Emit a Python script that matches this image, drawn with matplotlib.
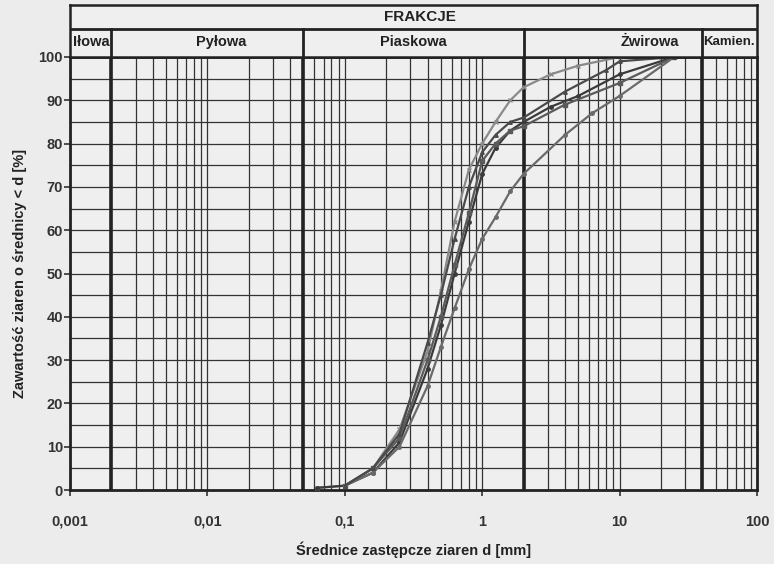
import matplotlib
matplotlib.use("Agg")
import matplotlib.pyplot as plt

# ---- data ----
curve1_d = [0.063, 0.1, 0.16, 0.25, 0.4, 0.5, 0.63, 0.8, 1.0, 1.25, 1.6, 2.0, 3.15, 5.0, 10.0, 20.0]
curve1_p = [0.5, 1, 5, 14, 32, 46, 62, 74, 80, 85, 90, 93, 96, 98, 100, 100]
curve2_d = [0.063, 0.1, 0.16, 0.25, 0.4, 0.5, 0.63, 0.8, 1.0, 1.25, 1.6, 2.0, 3.15, 5.0, 10.0, 25.0]
curve2_p = [0.5, 1, 4, 11, 28, 38, 50, 62, 73, 79, 83, 85, 88.5, 91, 96, 100]
curve3_d = [0.1, 0.16, 0.25, 0.4, 0.5, 0.63, 0.8, 1.0, 1.25, 1.6, 2.0, 4.0, 10.0, 25.0]
curve3_p = [1, 5, 12, 30, 40, 52, 64, 76, 80, 83, 84, 89, 94, 100]
curve4_d = [0.1, 0.16, 0.25, 0.4, 0.5, 0.63, 0.8, 1.0, 1.25, 1.6, 2.0, 4.0, 6.3, 10.0, 25.0]
curve4_p = [1, 4, 10, 24, 33, 42, 51, 58, 63, 69, 73, 82, 87, 91, 100]
curve5_d = [0.1, 0.16, 0.25, 0.4, 0.5, 0.63, 0.8, 1.0, 1.25, 1.6, 2.0, 4.0, 8.0, 10.0, 25.0]
curve5_p = [1, 5, 13, 34, 45, 58, 70, 78, 82, 85, 86, 92, 97, 99, 100]

curves = [(curve1_d, curve1_p), (curve2_d, curve2_p), (curve3_d, curve3_p),
          (curve4_d, curve4_p), (curve5_d, curve5_p)]
curve_colors = ['#8a8a8a', '#3a3a3a', '#5a5a5a', '#6a6a6a', '#4a4a4a']
curve_markers = ['x', 'o', 's', 'o', '^']

fraction_names = ['Iłowa', 'Pyłowa', 'Piaskowa', 'Żwirowa', 'Kamien.']
fraction_bounds = [0.001, 0.002, 0.05, 2.0, 40.0, 100.0]
header_title = 'FRAKCJE'

xtick_vals = [0.001, 0.01, 0.1, 1, 10, 100]
xtick_labels = ['0,001', '0,01', '0,1', '1', '10', '100']
ytick_vals = list(range(0, 101, 10))

plt.rcParams['font.family'] = ['Liberation Sans', 'DejaVu Sans']

W, H = 774, 564
fig = plt.figure(figsize=(W / 100, H / 100), dpi=100, facecolor='#ececec')

L, R = 70, 757
B, T = 490, 57
ax = fig.add_axes([L / W, 1 - B / H, (R - L) / W, (B - T) / H])
ax.set_facecolor('#efefef')
ax.set_xscale('log')
ax.set_xlim(0.001, 100)
ax.set_ylim(0, 100)

gridc = '#333333'
for dec in range(-3, 2):
    for m in range(1, 10):
        v = m * 10.0 ** dec
        ax.axvline(v, color=gridc, lw=0.9, zorder=1)
for yv in range(5, 100, 5):
    ax.axhline(yv, color=gridc, lw=0.9, zorder=1)
for b in fraction_bounds[1:-1]:
    ax.axvline(b, color='#222222', lw=2.6, zorder=2)

for spine in ax.spines.values():
    spine.set_color('#222222')
    spine.set_linewidth(2.0)

for (d, p), c, mk in zip(curves, curve_colors, curve_markers):
    ax.plot(d, p, color=c, lw=1.6, marker=mk, ms=2.5, mfc=c, mec=c, zorder=4)

ax.set_xticks(xtick_vals)
ax.set_xticklabels(xtick_labels)
ax.xaxis.set_minor_locator(matplotlib.ticker.NullLocator())
ax.set_yticks(ytick_vals)
ax.tick_params(axis='both', labelsize=10.5, colors='#333333', length=4, width=1.2)
for lab in ax.get_xticklabels() + ax.get_yticklabels():
    lab.set_fontweight('bold')
    lab.set_color('#333333')
ax.tick_params(axis='x', pad=14)
ax.tick_params(axis='y', pad=1)

ax.set_xlabel('Średnice zastępcze ziaren d [mm]', fontsize=10.5, fontweight='bold',
              color='#222222', labelpad=9)
ax.set_ylabel('Zawartość ziaren o średnicy < d [%]', fontsize=10.5, fontweight='bold',
              color='#222222', labelpad=8)

# ---- header ----
HT, HB = 5, 57
hax = fig.add_axes([L / W, 1 - HB / H, (R - L) / W, (HB - HT) / H])
hax.set_xscale('log')
hax.set_xlim(0.001, 100)
hax.set_ylim(0, 2.1)
hax.set_facecolor('#efefef')
hax.set_xticks([])
hax.set_yticks([])
hax.xaxis.set_minor_locator(matplotlib.ticker.NullLocator())
for spine in hax.spines.values():
    spine.set_color('#222222')
    spine.set_linewidth(1.8)
hax.axhline(1.15, color='#222222', lw=2.0)
for b in fraction_bounds[1:-1]:
    hax.plot([b, b], [0, 1.15], color='#222222', lw=2.0)
hax.text(10 ** -0.45, 1.6, header_title, ha='center', va='center', fontsize=11,
         color='#222222', fontweight='bold')
label_x = [0.00105, 10 ** -1.9, 10 ** -0.5, 10 ** 1.22, 10 ** 1.795]
label_ha = ['left', 'center', 'center', 'center', 'center']
label_fs = [10.5, 10.5, 10.5, 10.5, 9.5]
for nm, xv, ha, fs in zip(fraction_names, label_x, label_ha, label_fs):
    hax.text(xv, 0.6, nm, ha=ha, va='center', fontsize=fs, color='#222222',
             fontweight='bold', zorder=5)

fig.savefig('out.png', dpi=100, facecolor=fig.get_facecolor())
